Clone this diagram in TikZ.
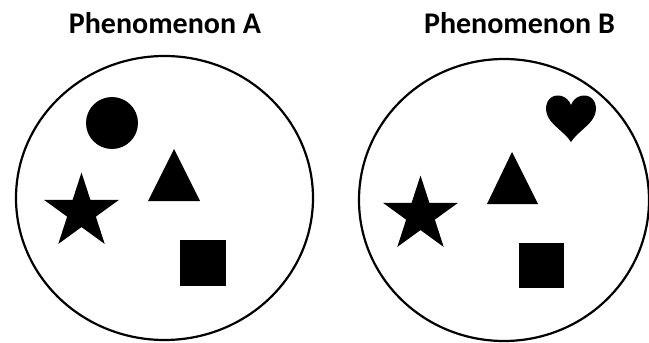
\documentclass[tikz,border=0pt]{standalone}
\usepackage{fontspec}
\setmainfont{Carlito}
\usetikzlibrary{shapes.geometric,positioning}

\begin{document}
\begin{tikzpicture}[
    x=1pt, y=-1pt,
    title/.style={font=\fontsize{30}{34}\selectfont\bfseries, anchor=base, inner sep=0pt},
    set/.style={ellipse, draw=black, line width=2.2pt, inner sep=0pt},
    blob/.style={fill=black, draw=none, inner sep=0pt},
    starshape/.style={blob, star, star points=5, star point ratio=2.618, minimum size=79pt}
]
\useasboundingbox (0,0) rectangle (649,343);

% phenomenon A
\node[title] (titleA) at (165,33) {Phenomenon A};
\node[set, minimum width=297pt, minimum height=284pt] (setA) at (164.5,198) {};
\node[blob, circle, minimum size=52pt] (dotA) at (112,123) {};
\node[starshape] (starA) at (81.5,212) {};
\node[blob, rectangle, minimum size=46pt] (boxA) at (203,263) {};
\fill (174,149) -- (200,201) -- (148,201) -- cycle;

% phenomenon B
\node[title] (titleB) at (519.5,33) {Phenomenon B};
\node[set, minimum width=290pt, minimum height=282pt] (setB) at (504,200) {};
\node[starshape] (starB) at (420.5,215) {};
\node[blob, rectangle, minimum size=45pt] (boxB) at (541.5,265.5) {};
\fill (512,152) -- (538,204) -- (487,204) -- cycle;
\fill (571,105) .. controls (575,95) and (585,94) .. (590,97)
    .. controls (597,101) and (598,112) .. (592,120)
    .. controls (586,128) and (576,134) .. (571,142)
    .. controls (566,134) and (556,128) .. (550,120)
    .. controls (544,112) and (545,101) .. (552,97)
    .. controls (557,94) and (567,95) .. (571,105) -- cycle;

\end{tikzpicture}
\end{document}
